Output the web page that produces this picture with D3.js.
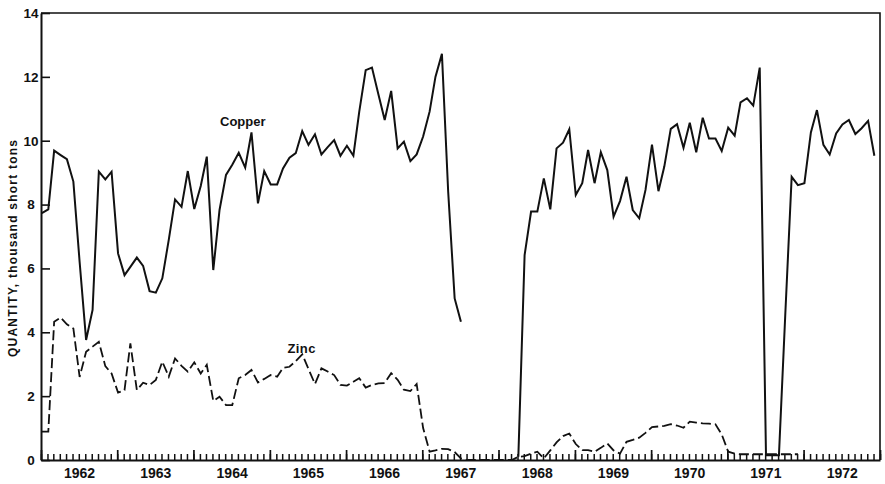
<!DOCTYPE html>
<html>
<head>
<meta charset="utf-8">
<script src="https://cdn.jsdelivr.net/npm/d3@7"></script>
<style>
  html, body { margin: 0; padding: 0; background: #fff; }
  svg { display: block; }
  text { font-family: "Liberation Sans", Arial, sans-serif; fill: #111; }
</style>
</head>
<body>
<svg id="chart" width="885" height="484"></svg>
<script>
// Monthly quantities, January 1962 - December 1972 (thousand short tons)
const years = [1962, 1963, 1964, 1965, 1966, 1967, 1968, 1969, 1970, 1971, 1972];

const copper = [
  7.73, 7.85, 9.69, 9.55, 9.42, 8.72, 6.2, 3.76, 4.70, 9.03, 8.79, 9.03,        // 1962
  6.47, 5.79, 6.05, 6.34, 6.08, 5.29, 5.24, 5.69, 6.9, 8.16, 7.93, 9.05,        // 1963
  7.86, 8.58, 9.50, 5.95, 7.83, 8.93, 9.25, 9.62, 9.16, 10.26, 8.04, 9.05,      // 1964
  8.63, 8.63, 9.13, 9.47, 9.61, 10.30, 9.87, 10.20, 9.57, 9.8, 10.02, 9.53,     // 1965
  9.84, 9.53, 10.9, 12.21, 12.29, 11.45, 10.65, 11.56, 9.76, 9.97, 9.36, 9.57,  // 1966
  10.13, 10.91, 12.0, 12.72, 8.4, 5.06, 4.33, null, null, null, null, null,     // 1967
  null, null, null, 0.1, 6.42, 7.78, 7.78, 8.82, 7.85, 9.76, 9.94, 10.36,       // 1968
  8.30, 8.67, 9.71, 8.67, 9.64, 9.08, 7.62, 8.11, 8.87, 7.83, 7.57, 8.46,       // 1969
  9.88, 8.42, 9.19, 10.37, 10.52, 9.78, 10.56, 9.64, 10.72, 10.07, 10.07, 9.68, // 1970
  10.41, 10.16, 11.2, 11.33, 11.1, 12.29, 0.15, 0.15, 0.15, 4.5, 8.87, 8.61,    // 1971
  8.67, 10.26, 10.96, 9.87, 9.57, 10.23, 10.51, 10.65, 10.21, 10.39, 10.62, 9.53 // 1972
];

const zinc = [
  0.89, 0.89, 4.33, 4.46, 4.25, 4.12, 2.6, 3.39, 3.55, 3.70, 2.94, 2.71,        // 1962
  2.11, 2.19, 3.65, 2.19, 2.42, 2.35, 2.51, 3.08, 2.61, 3.18, 2.95, 2.77,       // 1963
  3.06, 2.71, 2.98, 1.85, 1.98, 1.72, 1.72, 2.56, 2.66, 2.82, 2.43, 2.54,       // 1964
  2.66, 2.61, 2.89, 2.92, 3.1, 3.31, 2.85, 2.38, 2.87, 2.77, 2.66, 2.35,        // 1965
  2.33, 2.45, 2.56, 2.27, 2.35, 2.40, 2.41, 2.72, 2.51, 2.20, 2.16, 2.38,       // 1966
  1.0, 0.26, 0.3, 0.35, 0.34, 0.25, 0.05, 0, 0, 0, 0, 0,                        // 1967
  0, 0, 0, 0.1, 0.12, 0.2, 0.26, 0.05, 0.3, 0.55, 0.75, 0.83,                   // 1968
  0.5, 0.31, 0.31, 0.26, 0.38, 0.52, 0.3, 0.2, 0.57, 0.63, 0.70, 0.85,          // 1969
  1.03, 1.05, 1.07, 1.12, 1.08, 1.01, 1.2, 1.17, 1.15, 1.14, 1.12, 0.8,         // 1970
  0.26, 0.2, 0.18, 0.18, 0.18, 0.18, 0.18, 0.18, 0.18, 0.18, 0.18, 0.18,        // 1971
  null, null, null, null, null, null, null, null, null, null, null, null        // 1972
];

const yTicks = [0, 2, 4, 6, 8, 10, 12, 14];

const svg = d3.select("#chart");
const plot = { left: 41, right: 880, top: 13, bottom: 460 };

const x = d3.scaleTime()
  .domain([new Date(years[0], 0, 1), new Date(years[years.length - 1] + 1, 0, 1)])
  .range([plot.left, plot.right]);
const y = d3.scaleLinear().domain([0, 14]).range([plot.bottom, plot.top]);

const monthDate = i => new Date(years[0], i, 5);
const rows = (vals) => vals.map((v, i) => ({ date: monthDate(i), value: v }));

const ink = "#111";

// frame: top and right edges
svg.append("path")
  .attr("d", `M${plot.left},${plot.top}H${plot.right}V${plot.bottom}`)
  .attr("fill", "none").attr("stroke", ink).attr("stroke-width", 1.6);

// y axis: inward ticks, centred labels
const gy = svg.append("g").attr("transform", `translate(${plot.left},0)`)
  .call(d3.axisLeft(y).tickValues(yTicks).tickSizeInner(-9).tickSizeOuter(0).tickPadding(0));
gy.select(".domain").attr("stroke", ink).attr("stroke-width", 2);
gy.selectAll(".tick line").attr("stroke", ink).attr("stroke-width", 1.6);
gy.selectAll(".tick text")
  .attr("x", -10).attr("text-anchor", "middle").attr("fill", ink)
  .style("font-size", "13.5px").style("font-weight", "bold").style("font-family", "Liberation Sans, Arial, sans-serif");

// x axis: monthly minor ticks and yearly major ticks pointing up
const gxm = svg.append("g").attr("transform", `translate(0,${plot.bottom})`)
  .call(d3.axisBottom(x).ticks(d3.timeMonth.every(1)).tickSizeInner(-6).tickSizeOuter(0).tickFormat(""));
gxm.select(".domain").attr("stroke", ink).attr("stroke-width", 2);
gxm.selectAll(".tick line").attr("stroke", ink).attr("stroke-width", 1.5);

const gxy = svg.append("g").attr("transform", `translate(0,${plot.bottom})`)
  .call(d3.axisBottom(x).ticks(d3.timeYear.every(1)).tickSizeInner(-10).tickSizeOuter(0).tickFormat(""));
gxy.select(".domain").remove();
gxy.selectAll(".tick line").attr("stroke", ink).attr("stroke-width", 1.7);

// year labels centred in each year
const gxl = svg.append("g").attr("transform", `translate(0,${plot.bottom})`)
  .call(d3.axisBottom(x).tickValues(years.map(yr => new Date(yr, 6, 2)))
    .tickSize(0).tickPadding(8).tickFormat(d3.timeFormat("%Y")));
gxl.select(".domain").remove();
gxl.selectAll(".tick text").attr("fill", ink)
  .style("font-size", "14px").style("font-weight", "bold").style("font-family", "Liberation Sans, Arial, sans-serif");

// axis title
svg.append("text")
  .attr("transform", `translate(16.5,248.5) rotate(-90)`)
  .attr("text-anchor", "middle")
  .attr("textLength", 217).attr("lengthAdjust", "spacing")
  .style("font-size", "12px").style("font-weight", "bold")
  .text("QUANTITY, thousand short tons");

// series
const line = d3.line()
  .defined(d => d.value !== null)
  .x(d => x(d.date))
  .y(d => y(d.value));

svg.append("path")
  .datum(rows(copper))
  .attr("d", line)
  .attr("fill", "none").attr("stroke", ink).attr("stroke-width", 2)
  .attr("stroke-linejoin", "miter").attr("stroke-miterlimit", 4);

svg.append("path")
  .datum(rows(zinc))
  .attr("d", line)
  .attr("fill", "none").attr("stroke", ink).attr("stroke-width", 1.8)
  .attr("stroke-dasharray", "10,4")
  .attr("stroke-linejoin", "miter");

// series labels
svg.append("text").attr("x", 220).attr("y", 126)
  .style("font-size", "13px").style("font-weight", "bold").text("Copper");
svg.append("text").attr("x", 287.5).attr("y", 352.5)
  .style("font-size", "13px").style("font-weight", "bold").style("letter-spacing", "0.4px").text("Zinc");
</script>
</body>
</html>
